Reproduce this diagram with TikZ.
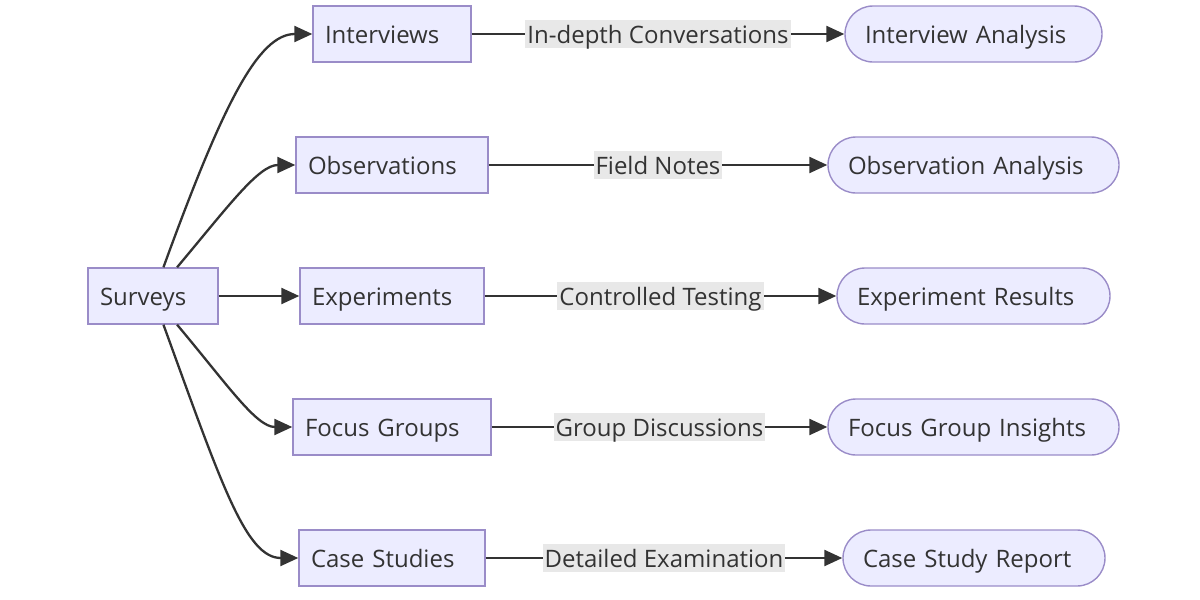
\documentclass[tikz,border=0pt]{standalone}
\usepackage{fontspec}
\setmainfont{Open Sans}
\usetikzlibrary{arrows.meta}
\definecolor{boxfill}{HTML}{ECECFF}
\definecolor{boxline}{HTML}{9A8CC8}
\definecolor{inkgray}{HTML}{333333}
\definecolor{lblfill}{HTML}{E8E8E8}
\begin{document}
\begin{tikzpicture}[x=0.5pt, y=-0.5pt, font=\fontsize{12}{14}\selectfont, text=inkgray,
  method/.style={draw=boxline, fill=boxfill, line width=0.7pt, minimum height=28pt, inner xsep=6pt,
    align=left, text height=10.5pt, text depth=1.5pt},
  result/.style={draw=boxline, fill=boxfill, line width=0.7pt, minimum height=28pt, inner xsep=10pt,
    rounded corners=14pt, align=left, text height=10.5pt, text depth=1.5pt},
  lbl/.style={fill=lblfill, inner xsep=1pt, inner ysep=0.5pt, text height=11pt, text depth=2pt, text=inkgray},
  arr/.style={draw=inkgray, line width=1.15pt, -{Triangle[length=9pt,width=8pt]}},
  fan/.style={arr, out looseness=1.6, in looseness=0.5},
  fanb/.style={arr, out looseness=1.3, in looseness=0.6}]
	\useasboundingbox (0,0) rectangle (1200,600);
	
	% Start node
	\node[method, text width=53pt] (sv) at (153,296) {Surveys};
	
	% Methods
	\node[method, text width=67pt] (iv) at (392,34) {Interviews};
	\node[method, text width=84pt] (ob) at (392,165) {Observations};
	\node[method, text width=80pt] (ex) at (392,296) {Experiments};
	\node[method, text width=87pt] (fg) at (392,427) {Focus Groups};
	\node[method, text width=81pt] (cs) at (392,558) {Case Studies};
	
	% Outcomes
	\node[result, text width=108.5pt] (ia) at (973.5,34) {Interview Analysis};
	\node[result, text width=125.5pt] (oa) at (973.5,165) {Observation Analysis};
	\node[result, text width=116.5pt] (er) at (973.5,296) {Experiment Results};
	\node[result, text width=125.5pt] (gi) at (973.5,427) {Focus Group Insights};
	\node[result, text width=111pt] (cr) at (974,558) {Case Study Report};
	
	% Surveys to methods
	\draw[fan] (sv.70) to[out=70, in=180] (iv.west);
	\draw[fanb] (sv.50) to[out=50, in=180] (ob.west);
	\draw[arr] (sv.east) -- (ex.west);
	\draw[fanb] (sv.-50) to[out=-50, in=180] (fg.west);
	\draw[fan] (sv.-70) to[out=-70, in=180] (cs.west);
	
	% Methods to outcomes
	\draw[arr] (iv.east) -- node[lbl] {In-depth Conversations} (ia.west);
	\draw[arr] (ob.east) -- node[lbl] {Field Notes} (oa.west);
	\draw[arr] (ex.east) -- node[lbl] {Controlled Testing} (er.west);
	\draw[arr] (fg.east) -- node[lbl] {Group Discussions} (gi.west);
	\draw[arr] (cs.east) -- node[lbl] {Detailed Examination} (cr.west);
\end{tikzpicture}
\end{document}
